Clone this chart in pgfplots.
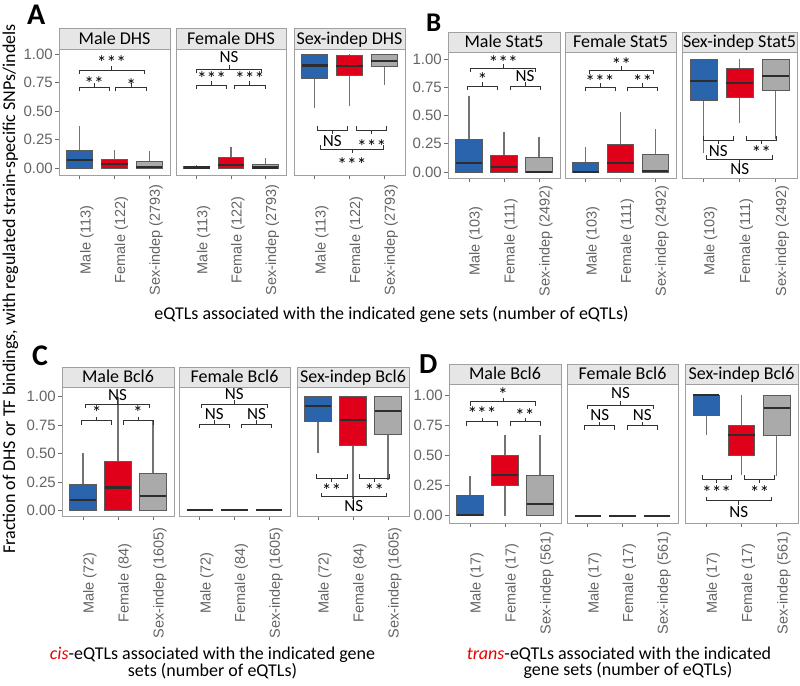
\documentclass[border=0pt]{standalone}
\usepackage{fontspec}
\setmainfont{Carlito}
\newfontfamily\arialf{Liberation Sans}
\usepackage{pgfplots}
\pgfplotsset{compat=1.18}
\usepgfplotslibrary{statistics}

\definecolor{cblue}{RGB}{42,100,172}
\definecolor{cred}{RGB}{225,0,26}
\definecolor{cgray}{RGB}{170,170,170}
\definecolor{edgecol}{RGB}{90,90,90}
\definecolor{medcol}{RGB}{45,45,45}
\definecolor{whiskcol}{RGB}{115,115,115}
\definecolor{bordercol}{RGB}{160,160,160}
\definecolor{stripfill}{RGB}{230,230,230}
\definecolor{ticklab}{RGB}{100,100,100}
\definecolor{tickcol}{RGB}{110,110,110}
\definecolor{brkcol}{RGB}{50,50,50}
\definecolor{titlered}{RGB}{230,0,0}

\tikzset{
 brk/.style={draw=brkcol, line width=0.8bp},
 sig/.style={font=\fontsize{17bp}{20bp}\selectfont, inner sep=0pt, anchor=base},
 xtl/.style={font=\arialf\fontsize{14.5bp}{17bp}\selectfont, text=ticklab, rotate=90, anchor=north, inner sep=0pt},
 stripst/.style={draw=bordercol, fill=stripfill, line width=0.8bp},
 striptx/.style={font=\fontsize{18bp}{21bp}\selectfont, anchor=base, inner sep=0pt},
}
\newcommand{\st}[1]{\raisebox{-1.2bp}{\fontsize{19.5bp}{20bp}\selectfont #1}}

\pgfplotsset{
 panel/.style={
   scale only axis, anchor=south west, clip=false,
   xmin=0.4, xmax=3.6,
   axis line style={draw=bordercol, line width=0.8bp},
   xtick={1,2,3}, xticklabels={},
   tick pos=left, tick align=outside, major tick length=4bp,
   major tick style={draw=tickcol, line width=0.8bp},
   ytick=\empty,
   boxplot/draw direction=y,
   boxplot/every box/.style={draw=edgecol, line width=0.8bp},
   boxplot/every median/.style={draw=medcol, line width=2.2bp},
   boxplot/every whisker/.style={draw=whiskcol, line width=1.3bp},
 },
 lpanel/.style={
   ytick={0,0.25,0.5,0.75,1},
   yticklabels={0.00,0.25,0.50,0.75,1.00},
   yticklabel style={font=\arialf\fontsize{15bp}{18bp}\selectfont, text=ticklab, inner sep=0pt, anchor=east, xshift=-2bp},
 },
}

% box: position, colour, lower whisker, lower quartile, median, upper quartile, upper whisker
\newcommand{\bx}[7]{%
 \addplot[fill=#2, draw=edgecol, boxplot prepared={draw position=#1, lower whisker=#3, lower quartile=#4, median=#5, upper quartile=#6, upper whisker=#7, box extend=0.75, whisker extend=0}] coordinates {};}
% bracket with ends down, label above: x1, x2, xmid, y, label, label baseline shift
\newcommand{\bd}[6]{%
 \draw[brk] ([yshift=-4bp]axis cs:#1,#4) -- (axis cs:#1,#4) -- (axis cs:#2,#4) -- ([yshift=-4bp]axis cs:#2,#4);
 \draw[brk] (axis cs:#3,#4) -- ([yshift=4bp]axis cs:#3,#4);
 \node[sig] at ([yshift=#6bp]axis cs:#3,#4) {#5};}
% bracket with ends up, label below
\newcommand{\bu}[6]{%
 \draw[brk] ([yshift=4bp]axis cs:#1,#4) -- (axis cs:#1,#4) -- (axis cs:#2,#4) -- ([yshift=4bp]axis cs:#2,#4);
 \draw[brk] (axis cs:#3,#4) -- ([yshift=-4bp]axis cs:#3,#4);
 \node[sig] at ([yshift=#6bp]axis cs:#3,#4) {#5};}
\newcommand{\strip}[2]{%
 \draw[stripst] (rel axis cs:0,1) rectangle ([yshift=#2bp]rel axis cs:1,1);
 \node[striptx] at ([yshift=4bp]rel axis cs:0.5,1) {#1};}
\newcommand{\xl}[4]{%
 \node[xtl] at ([yshift=-#1bp]axis cs:1,0) {#2};
 \node[xtl] at ([yshift=-#1bp]axis cs:2,0) {#3};
 \node[xtl] at ([yshift=-#1bp]axis cs:3,0) {#4};}

\begin{document}
\begin{tikzpicture}
\useasboundingbox (0,0) rectangle (800bp,686bp);

% ================= A =================
\begin{axis}[panel, lpanel, at={(59bp,511bp)}, width=111bp, height=126bp, ymin=-0.0614, ymax=1.044]
\bx{1}{cblue}{0}{0}{0.07}{0.15}{0.37}
\bx{2}{cred}{0}{0}{0.035}{0.076}{0.16}
\bx{3}{cgray}{0}{0}{0.01}{0.055}{0.145}
\bd{0.98}{1.84}{1.41}{0.708}{\st{**}}{-2}
\bd{2.04}{2.93}{2.485}{0.708}{\st{*}}{-4}
\bd{0.98}{2.85}{1.915}{0.86}{\st{***}}{1.5}
\strip{Male DHS}{21}
\xl{72}{Male (113)}{Female (122)}{Sex-indep (2793)}
\end{axis}
\begin{axis}[panel, at={(176bp,511bp)}, width=110bp, height=126bp, ymin=-0.0614, ymax=1.044]
\bx{1}{cblue}{0}{0}{0.005}{0.018}{0.028}
\bx{2}{cred}{0}{0}{0.027}{0.094}{0.187}
\bx{3}{cgray}{0}{0}{0.004}{0.032}{0.085}
\bd{1.0}{1.87}{1.435}{0.728}{\st{***}}{0.5}
\bd{2.1}{2.99}{2.545}{0.728}{\st{***}}{0.5}
\bd{1.0}{2.89}{1.945}{0.866}{NS}{6.5}
\strip{Female DHS}{21}
\xl{72}{Male (113)}{Female (122)}{Sex-indep (2793)}
\end{axis}
\begin{axis}[panel, at={(294bp,511bp)}, width=111bp, height=126bp, ymin=-0.0614, ymax=1.044]
\bx{1}{cblue}{0.525}{0.79}{0.90}{1.0}{1.0}
\bx{2}{cred}{0.54}{0.81}{0.895}{0.99}{1.0}
\bx{3}{cgray}{0.73}{0.89}{0.94}{1.0}{1.0}
\bu{1.07}{1.94}{1.505}{0.333}{NS}{-16.5}
\bu{2.21}{3.07}{2.64}{0.333}{\st{***}}{-22}
\bu{1.17}{2.97}{2.07}{0.167}{\st{***}}{-21}
\strip{Sex-indep DHS}{21}
\xl{72}{Male (113)}{Female (122)}{Sex-indep (2793)}
\end{axis}

% ================= B =================
\begin{axis}[panel, lpanel, at={(448bp,508bp)}, width=112bp, height=126bp, ymin=-0.053, ymax=1.062]
\bx{1}{cblue}{0}{0}{0.082}{0.29}{0.67}
\bx{2}{cred}{0}{0}{0.047}{0.144}{0.357}
\bx{3}{cgray}{0}{0}{0.0}{0.13}{0.31}
\bd{0.96}{1.81}{1.385}{0.761}{\st{*}}{1}
\bd{2.17}{3.03}{2.6}{0.761}{NS}{4.5}
\bd{1.05}{2.91}{1.98}{0.918}{\st{***}}{0}
\strip{Male Stat5}{20}
\xl{69}{Male (103)}{Female (111)}{Sex-indep (2492)}
\end{axis}
\begin{axis}[panel, at={(565bp,508bp)}, width=111bp, height=126bp, ymin=-0.053, ymax=1.062]
\bx{1}{cblue}{0}{0}{0}{0.088}{0.224}
\bx{2}{cred}{0}{0}{0.083}{0.245}{0.528}
\bx{3}{cgray}{0}{0}{0.012}{0.16}{0.378}
\bd{0.98}{1.84}{1.41}{0.75}{\st{***}}{0}
\bd{2.2}{3.07}{2.635}{0.75}{\st{**}}{0}
\bd{1.09}{2.96}{2.025}{0.903}{\st{**}}{0}
\strip{Female Stat5}{20}
\xl{69}{Male (103)}{Female (111)}{Sex-indep (2492)}
\end{axis}
\begin{axis}[panel, at={(682bp,508bp)}, width=115bp, height=126bp, ymin=-0.053, ymax=1.062]
\bx{1}{cblue}{0.17}{0.637}{0.808}{1.0}{1.0}
\bx{2}{cred}{0.43}{0.658}{0.785}{0.918}{1.0}
\bx{3}{cgray}{0.29}{0.72}{0.85}{1.0}{1.0}
\bu{0.99}{1.83}{1.41}{0.283}{NS}{-16.5}
\bu{2.2}{3.02}{2.61}{0.283}{\st{**}}{-18.5}
\bu{1.09}{2.92}{2.005}{0.112}{NS}{-15.5}
\strip{Sex-indep Stat5}{20}
\xl{69}{Male (103)}{Female (111)}{Sex-indep (2492)}
\end{axis}

% ================= C =================
\begin{axis}[panel, lpanel, at={(62bp,170bp)}, width=112bp, height=129bp, ymin=-0.05, ymax=1.085]
\bx{1}{cblue}{0}{0}{0.09}{0.224}{0.50}
\bx{2}{cred}{0}{0}{0.20}{0.428}{1.0}
\bx{3}{cgray}{0}{0}{0.125}{0.325}{0.79}
\bd{0.96}{1.82}{1.39}{0.789}{\st{*}}{2}
\bd{2.14}{3.0}{2.57}{0.789}{\st{*}}{2}
\bd{1.06}{2.91}{1.985}{0.936}{NS}{3.5}
\strip{Male Bcl6}{20}
\xl{72.7}{Male (72)}{Female (84)}{Sex-indep (1605)}
\end{axis}
\begin{axis}[panel, at={(179bp,170bp)}, width=111bp, height=129bp, ymin=-0.05, ymax=1.085]
\bx{1}{cblue}{0}{0}{0}{0}{0}
\bx{2}{cred}{0}{0}{0}{0}{0}
\bx{3}{cgray}{0}{0}{0}{0}{0}
\bd{0.99}{1.85}{1.42}{0.76}{NS}{4.5}
\bd{2.2}{3.07}{2.635}{0.76}{NS}{4.5}
\bd{1.05}{2.94}{1.995}{0.936}{NS}{4}
\strip{Female Bcl6}{20}
\xl{72.7}{Male (72)}{Female (84)}{Sex-indep (1605)}
\end{axis}
\begin{axis}[panel, at={(297bp,170bp)}, width=112bp, height=129bp, ymin=-0.05, ymax=1.085]
\bx{1}{cblue}{0.50}{0.78}{0.915}{1.0}{1.0}
\bx{2}{cred}{0.10}{0.575}{0.795}{1.0}{1.0}
\bx{3}{cgray}{0.27}{0.665}{0.875}{1.0}{1.0}
\bu{0.95}{1.83}{1.39}{0.282}{\st{**}}{-18}
\bu{2.17}{3.05}{2.61}{0.282}{\st{**}}{-18}
\bu{1.1}{2.95}{2.025}{0.12}{NS}{-15}
\strip{Sex-indep Bcl6}{20}
\xl{72.7}{Male (72)}{Female (84)}{Sex-indep (1605)}
\end{axis}

% ================= D =================
\begin{axis}[panel, lpanel, at={(449bp,163bp)}, width=112bp, height=139bp, ymin=-0.06, ymax=1.091]
\bx{1}{cblue}{0}{0}{0.008}{0.171}{0.331}
\bx{2}{cred}{0}{0.25}{0.337}{0.50}{0.667}
\bx{3}{cgray}{0}{0}{0.097}{0.333}{0.667}
\bd{0.91}{1.78}{1.345}{0.779}{\st{***}}{2}
\bd{2.14}{3.0}{2.57}{0.779}{\st{**}}{0}
\bd{1.0}{2.88}{1.94}{0.945}{\st{*}}{1.5}
\strip{Male Bcl6}{20}
\xl{67.3}{Male (17)}{Female (17)}{Sex-indep (561)}
\end{axis}
\begin{axis}[panel, at={(567bp,163bp)}, width=111bp, height=139bp, ymin=-0.06, ymax=1.091]
\bx{1}{cblue}{0}{0}{0}{0}{0}
\bx{2}{cred}{0}{0}{0}{0}{0}
\bx{3}{cgray}{0}{0}{0}{0}{0}
\bd{0.91}{1.78}{1.345}{0.746}{NS}{5.5}
\bd{2.14}{3.0}{2.57}{0.746}{NS}{5.5}
\bd{1.0}{2.88}{1.94}{0.917}{NS}{6.5}
\strip{Female Bcl6}{20}
\xl{67.3}{Male (17)}{Female (17)}{Sex-indep (561)}
\end{axis}
\begin{axis}[panel, at={(685bp,163bp)}, width=113bp, height=139bp, ymin=-0.06, ymax=1.091]
\bx{1}{cblue}{0.667}{0.834}{1.0}{1.0}{1.0}
\bx{2}{cred}{0.337}{0.497}{0.667}{0.746}{1.0}
\bx{3}{cgray}{0.33}{0.666}{0.89}{1.0}{1.0}
\bu{0.88}{1.71}{1.295}{0.304}{\st{***}}{-19.5}
\bu{2.09}{2.94}{2.515}{0.304}{\st{**}}{-19.5}
\bu{1.0}{2.85}{1.925}{0.124}{NS}{-17}
\strip{Sex-indep Bcl6}{20}
\xl{67.3}{Male (17)}{Female (17)}{Sex-indep (561)}
\end{axis}

% ================= texts =================
\node[anchor=base west, inner sep=0pt, font=\fontsize{30bp}{30bp}\selectfont\bfseries] at (27bp,661bp) {A};
\node[anchor=base west, inner sep=0pt, font=\fontsize{27bp}{27bp}\selectfont\bfseries] at (426bp,654.3bp) {B};
\node[anchor=base west, inner sep=0pt, font=\fontsize{30bp}{30bp}\selectfont\bfseries] at (32bp,320.5bp) {C};
\node[anchor=base west, inner sep=0pt, font=\fontsize{29bp}{29bp}\selectfont\bfseries] at (419bp,312bp) {D};

\node[rotate=90, anchor=base, inner sep=0pt, font=\fontsize{18bp}{21bp}\selectfont] at (15bp,397bp) {Fraction of DHS or TF bindings, with regulated strain-specific SNPs/indels};

\node[anchor=base, inner sep=0pt, font=\fontsize{18bp}{21bp}\selectfont] at (391.5bp,366.5bp) {eQTLs associated with the indicated gene sets (number of eQTLs)};

\node[anchor=base, inner sep=0pt, font=\fontsize{18bp}{21bp}\selectfont] at (212.5bp,27bp) {\textcolor{titlered}{\itshape cis}-eQTLs associated with the indicated gene};
\node[anchor=base, inner sep=0pt, font=\fontsize{18bp}{21bp}\selectfont] at (212.5bp,9.5bp) {sets (number of eQTLs)};

\node[anchor=base, inner sep=0pt, font=\fontsize{18bp}{21bp}\selectfont] at (619bp,27bp) {\textcolor{titlered}{\itshape trans}-eQTLs associated with the indicated};
\node[anchor=base, inner sep=0pt, font=\fontsize{18bp}{21bp}\selectfont] at (628bp,10.5bp) {gene sets (number of eQTLs)};
\end{tikzpicture}
\end{document}
